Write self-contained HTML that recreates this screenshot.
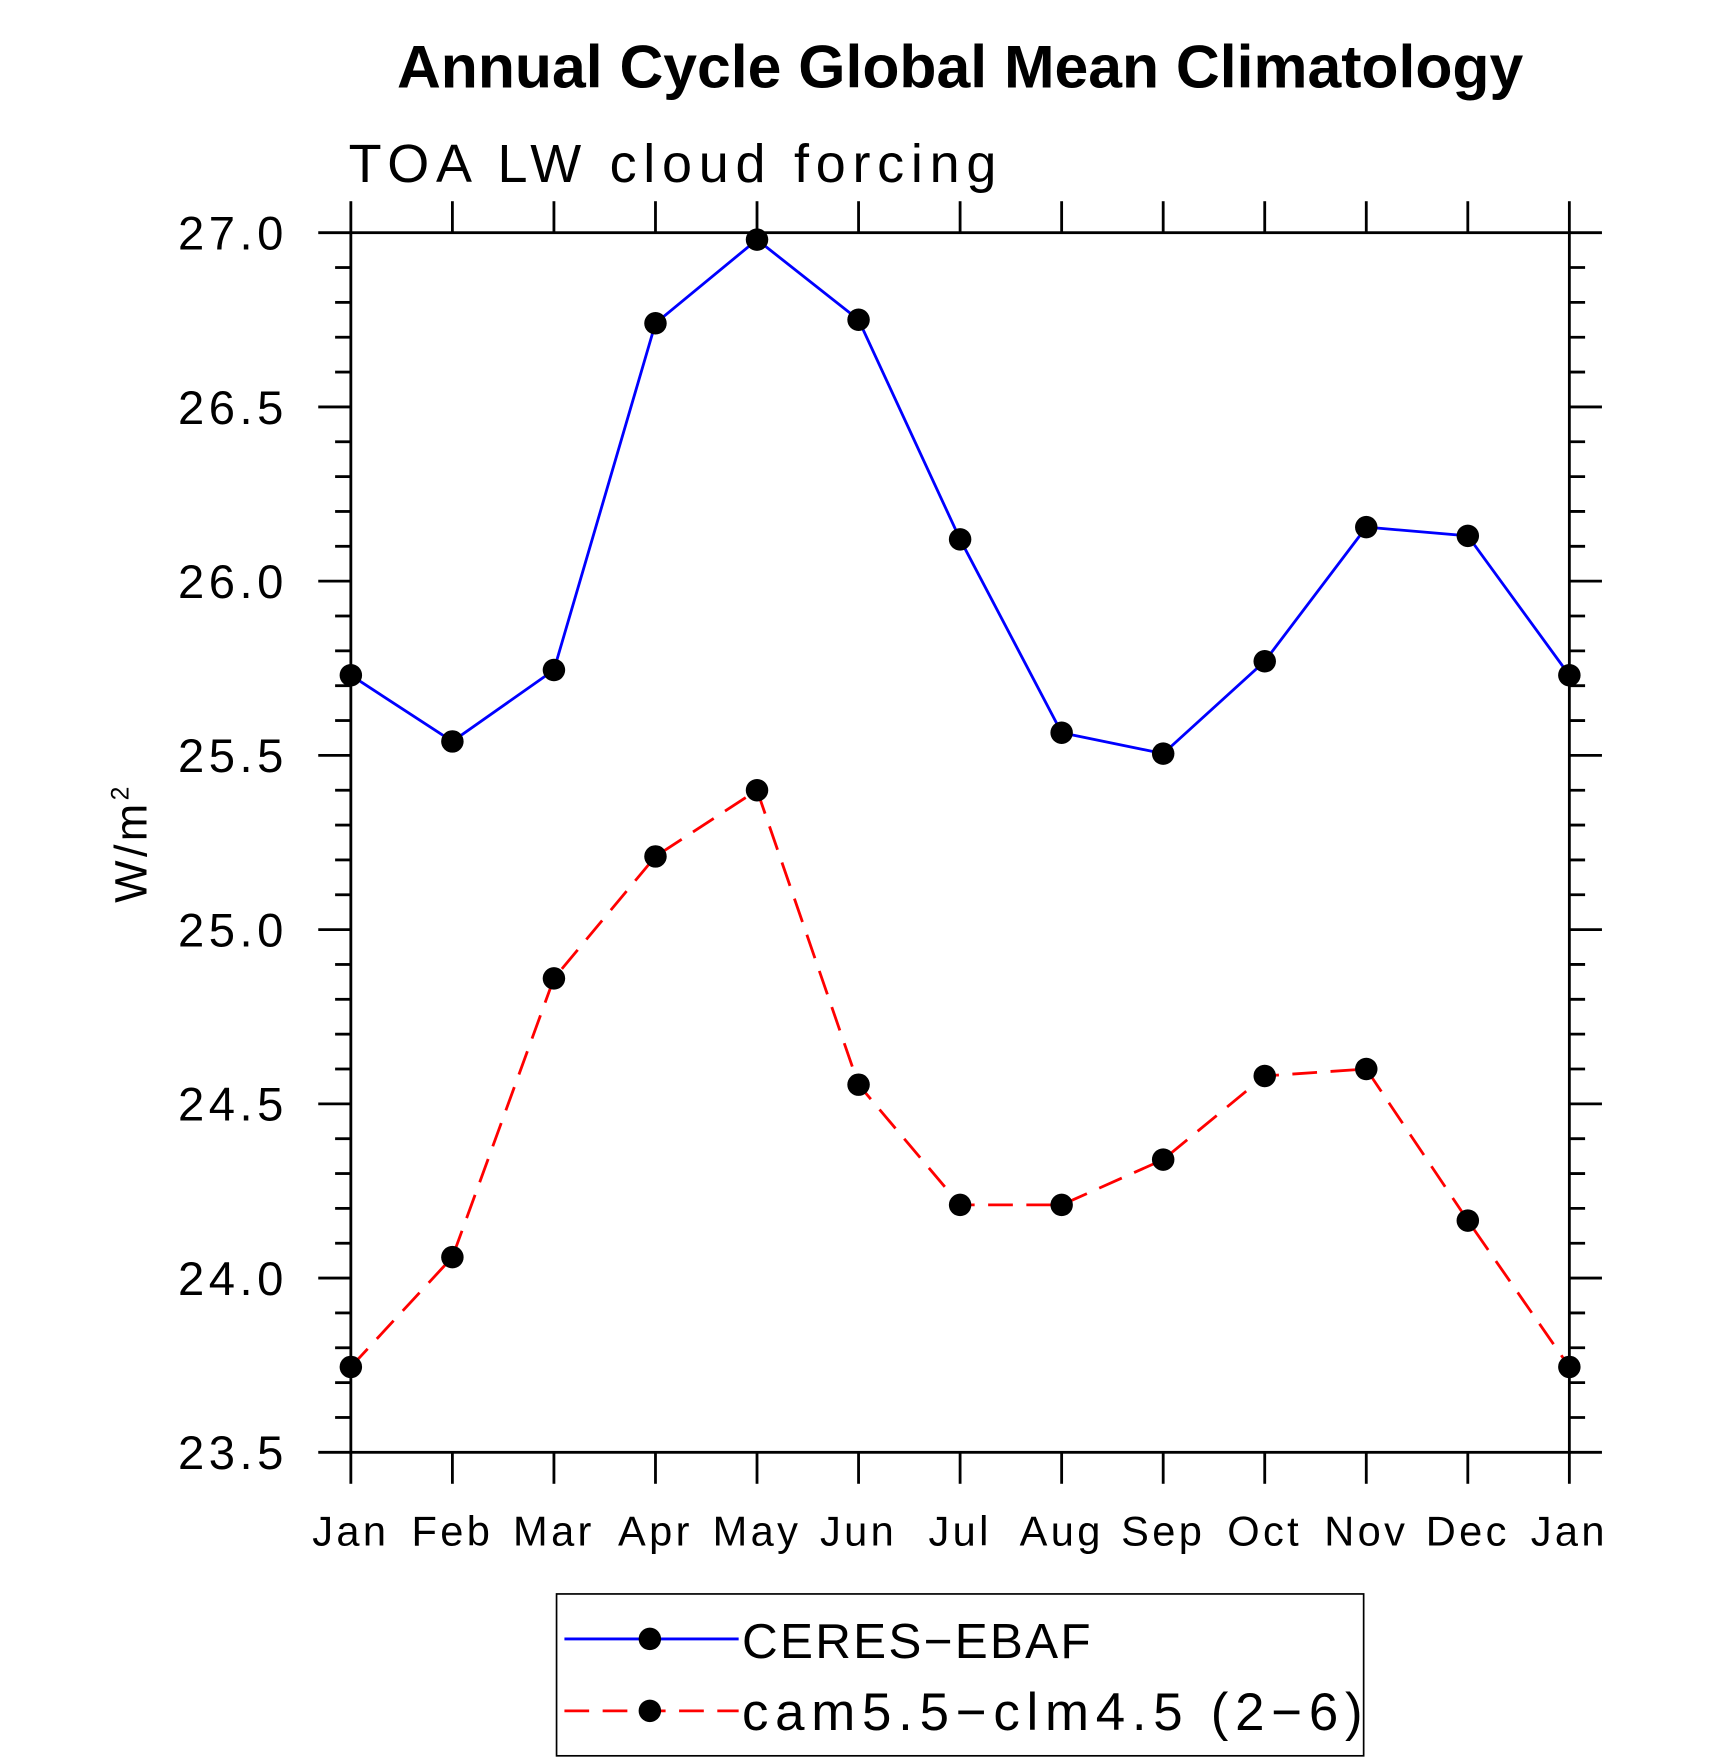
<!DOCTYPE html>
<html><head><meta charset="utf-8"><style>
html,body{margin:0;padding:0;background:#fff;}
svg{display:block;}
text{font-family:"Liberation Sans",sans-serif;fill:#000;}
</style></head><body>
<svg id="chart" width="1710" height="1762" viewBox="0 0 1521 1567.5" xmlns="http://www.w3.org/2000/svg">
<text x="854" y="78" text-anchor="middle" font-size="54" font-weight="bold">Annual Cycle Global Mean Climatology</text>
<text x="310" y="162" font-size="48" letter-spacing="6" font-weight="300">TOA LW cloud forcing</text>
<text transform="translate(130,750) rotate(-90)" text-anchor="middle" font-size="40" letter-spacing="3">W/m<tspan font-size="22" dy="-16">2</tspan></text>
<g id="axes"></g>
<g id="series"></g>
<g>
<rect x="495" y="1418" width="718" height="144" fill="none" stroke="#000" stroke-width="1.5"/>
<line x1="502" y1="1458" x2="657" y2="1458" stroke="#0000ff" stroke-width="2.5"/>
<circle cx="578" cy="1458" r="10"/>
<text x="660" y="1475" font-size="44" letter-spacing="2">CERES−EBAF</text>
<line x1="502" y1="1522" x2="657" y2="1522" stroke="#ff0000" stroke-width="2.5" stroke-dasharray="22,12"/>
<circle cx="578" cy="1522" r="10"/>
<text x="660" y="1539" font-size="47" letter-spacing="6">cam5.5−clm4.5 (2−6)</text>
</g>
</svg>
<script>
const months = ["Jan","Feb","Mar","Apr","May","Jun","Jul","Aug","Sep","Oct","Nov","Dec","Jan"];
const ceresValues = [25.73,25.54,25.745,26.74,26.98,26.75,26.12,25.565,25.505,25.77,26.155,26.13,25.73];
const camValues = [23.745,24.06,24.86,25.21,25.40,24.555,24.21,24.21,24.34,24.58,24.60,24.165,23.745];
const yTicks = [23.5,24.0,24.5,25.0,25.5,26.0,26.5,27.0];
const yTickLabels = ["23.5","24.0","24.5","25.0","25.5","26.0","26.5","27.0"];

const NS="http://www.w3.org/2000/svg";
const L=312,R=1396,T=207,B=1292,yMin=23.5,yMax=27.0;
const xs=i=>L+(R-L)*i/(months.length-1);
const ys=v=>B-(v-yMin)/(yMax-yMin)*(B-T);
function mk(tag,attrs,parent){const e=document.createElementNS(NS,tag);for(const k in attrs)e.setAttribute(k,attrs[k]);parent.appendChild(e);return e;}
const axes=document.getElementById('axes'), series=document.getElementById('series');
const sw={stroke:"#000","stroke-width":2.5};
let f=mk('rect',{x:L,y:T,width:R-L,height:B-T,fill:"none",stroke:"#000","stroke-width":2.5},axes);


months.forEach((m,i)=>{
  const x=xs(i);
  let t=mk('line',Object.assign({x1:x,y1:B,x2:x,y2:B+28},sw),axes);
  
  
  let t2=mk('line',Object.assign({x1:x,y1:T,x2:x,y2:T-28},sw),axes);
  
  
  let lb=mk('text',{x:x,y:1375,"text-anchor":"middle","font-size":"37","letter-spacing":"3"},axes);
  lb.textContent=m;
  
  
});
for(let k=0;k<=35;k++){
  const v=yMin+k*0.1, y=ys(v);
  const major=k%5===0;
  const len=major?29:14;
  let a=mk('line',Object.assign({x1:L-len,y1:y,x2:L,y2:y},sw),axes);
  
  
  let b=mk('line',Object.assign({x1:R,y1:y,x2:R+len,y2:y},sw),axes);
  
  
}
yTicks.forEach((v,i)=>{
  let lb=mk('text',{x:256,y:ys(v)+15,"text-anchor":"end","font-size":"42","letter-spacing":"4"},axes);
  lb.textContent=yTickLabels[i];
  
  
});
function drawSeries(vals,color,dash,name){
  const pts=vals.map((v,i)=>xs(i)+","+ys(v)).join(" ");
  const attrs={points:pts,fill:"none",stroke:color,"stroke-width":2.5};
  if(dash)attrs["stroke-dasharray"]=dash;
  let pl=mk('polyline',attrs,series);
  
  
  vals.forEach((v,i)=>{
    let c=mk('circle',{cx:xs(i),cy:ys(v),r:10,fill:"#000"},series);
    
    
  });
}
drawSeries(ceresValues,"#0000ff",null,"ceres-ebaf");
drawSeries(camValues,"#ff0000","22,12","cam5-5-clm4-5");
</script>
</body></html>
